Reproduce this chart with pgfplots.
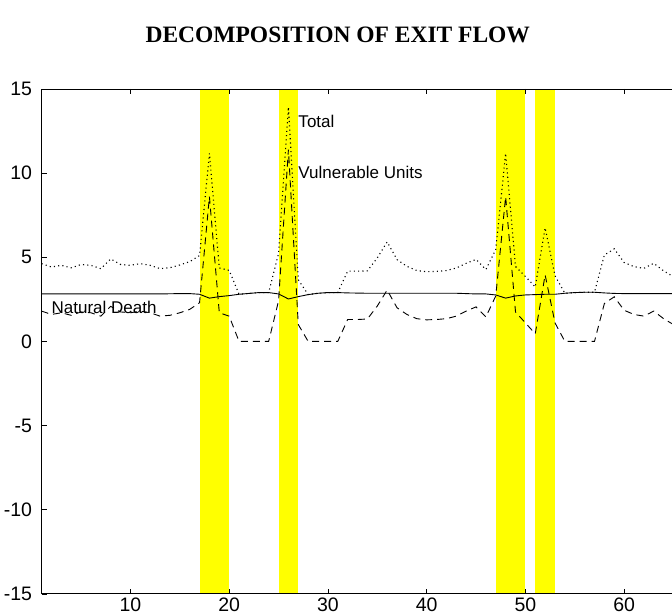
\documentclass[border=0pt]{standalone}
\usepackage{fontspec}
\setmainfont{Liberation Sans}
\newfontfamily\titlefont{Liberation Serif}
\usepackage{pgfplots}
\usepackage{pgfplotstable}
\pgfplotsset{compat=1.18}
\definecolor{band}{RGB}{255,255,0}
\pgfplotstableread{
x vuln nd total
1 1.80 2.82 4.62
2 1.60 2.82 4.42
3 1.70 2.82 4.52
4 1.55 2.82 4.37
5 1.75 2.82 4.57
6 1.70 2.82 4.52
7 1.50 2.82 4.32
8 2.08 2.82 4.90
9 1.75 2.82 4.57
10 1.70 2.82 4.52
11 1.80 2.82 4.62
12 1.70 2.82 4.52
13 1.50 2.82 4.32
14 1.55 2.83 4.38
15 1.70 2.84 4.54
16 1.90 2.84 4.74
17 2.30 2.80 5.10
18 8.60 2.57 11.17
19 1.70 2.66 4.36
20 1.50 2.72 4.22
21 0.00 2.80 2.80
22 0.00 2.85 2.85
23 0.00 2.90 2.90
24 0.00 2.90 2.90
25 2.40 2.82 5.22
26 11.40 2.52 13.92
27 1.00 2.66 3.66
28 0.00 2.78 2.78
29 0.00 2.86 2.86
30 0.00 2.90 2.90
31 0.00 2.90 2.90
32 1.30 2.88 4.18
33 1.30 2.87 4.17
34 1.33 2.86 4.19
35 2.10 2.86 4.96
36 3.05 2.86 5.91
37 2.00 2.86 4.86
38 1.60 2.86 4.46
39 1.35 2.86 4.21
40 1.28 2.86 4.14
41 1.30 2.86 4.16
42 1.35 2.86 4.21
43 1.50 2.86 4.36
44 1.80 2.84 4.64
45 2.05 2.82 4.87
46 1.45 2.82 4.27
47 2.70 2.76 5.46
48 8.60 2.57 11.17
49 1.75 2.70 4.45
50 1.10 2.76 3.86
51 0.45 2.78 3.23
52 3.95 2.80 6.75
53 1.10 2.80 3.90
54 0.00 2.86 2.86
55 0.00 2.90 2.90
56 0.00 2.92 2.92
57 0.00 2.92 2.92
58 2.25 2.88 5.13
59 2.65 2.85 5.50
60 1.85 2.84 4.69
61 1.60 2.84 4.44
62 1.50 2.84 4.34
63 1.80 2.84 4.64
64 1.35 2.84 4.19
65 1.00 2.84 3.84
}\datatable
\begin{document}
\begin{tikzpicture}
\begin{axis}[
  scale only axis,
  width=630.6pt, height=505pt,
  xmin=1, xmax=64.85, ymin=-15, ymax=15,
  separate axis lines,
  axis x line=box,
  axis y line=left,
  y axis line style={-},
  xtick={10,20,30,40,50,60},
  xticklabels={10,20,30,40,50,60},
  ytick={-15,-10,-5,0,5,10,15},
  yticklabels={-15,-10,-5,0,5,10,15},
  tick align=inside,
  major tick length=5pt,
  xtick pos=both,
  ytick pos=left,
  tick style={black, line width=0.6pt},
  axis line style={black, line width=0.8pt},
  tick label style={font=\fontsize{19.5}{22}\selectfont},
  xticklabel style={yshift=-1pt},
  yticklabel style={xshift=-6pt},
  clip=true,
  axis on top,
]
\addplot[fill=band, draw=none, forget plot] coordinates {(17,-15) (17,15) (20,15) (20,-15)} -- cycle;
\addplot[fill=band, draw=none, forget plot] coordinates {(25,-15) (25,15) (27,15) (27,-15)} -- cycle;
\addplot[fill=band, draw=none, forget plot] coordinates {(47,-15) (47,15) (50,15) (50,-15)} -- cycle;
\addplot[fill=band, draw=none, forget plot] coordinates {(51,-15) (51,15) (53,15) (53,-15)} -- cycle;
\addplot[black, line width=0.9pt] table[x=x, y=nd] {\datatable};
\addplot[black, line width=0.9pt, dash pattern=on 7pt off 5pt] table[x=x, y=vuln] {\datatable};
\addplot[black, line width=1.1pt, dash pattern=on 1.1pt off 3.2pt] table[x=x, y=total] {\datatable};
\node[anchor=west, font=\fontsize{17}{20}\selectfont, inner sep=0pt] at (axis cs:27,13.05) {Total};
\node[anchor=west, font=\fontsize{17}{20}\selectfont, inner sep=0pt] at (axis cs:27,10.05) {Vulnerable Units};
\node[anchor=west, font=\fontsize{17}{20}\selectfont, inner sep=0pt] at (axis cs:2,2.0) {Natural Death};
\end{axis}
\node[font=\titlefont\bfseries\fontsize{23.5}{26}\selectfont] at ([xshift=-19pt,yshift=54pt]current axis.north) {DECOMPOSITION OF EXIT FLOW};
\pgfresetboundingbox
\path[use as bounding box] ([xshift=-41.6pt,yshift=-22pt]current axis.south west) rectangle ([yshift=89pt]current axis.north east);
\end{tikzpicture}
\end{document}
